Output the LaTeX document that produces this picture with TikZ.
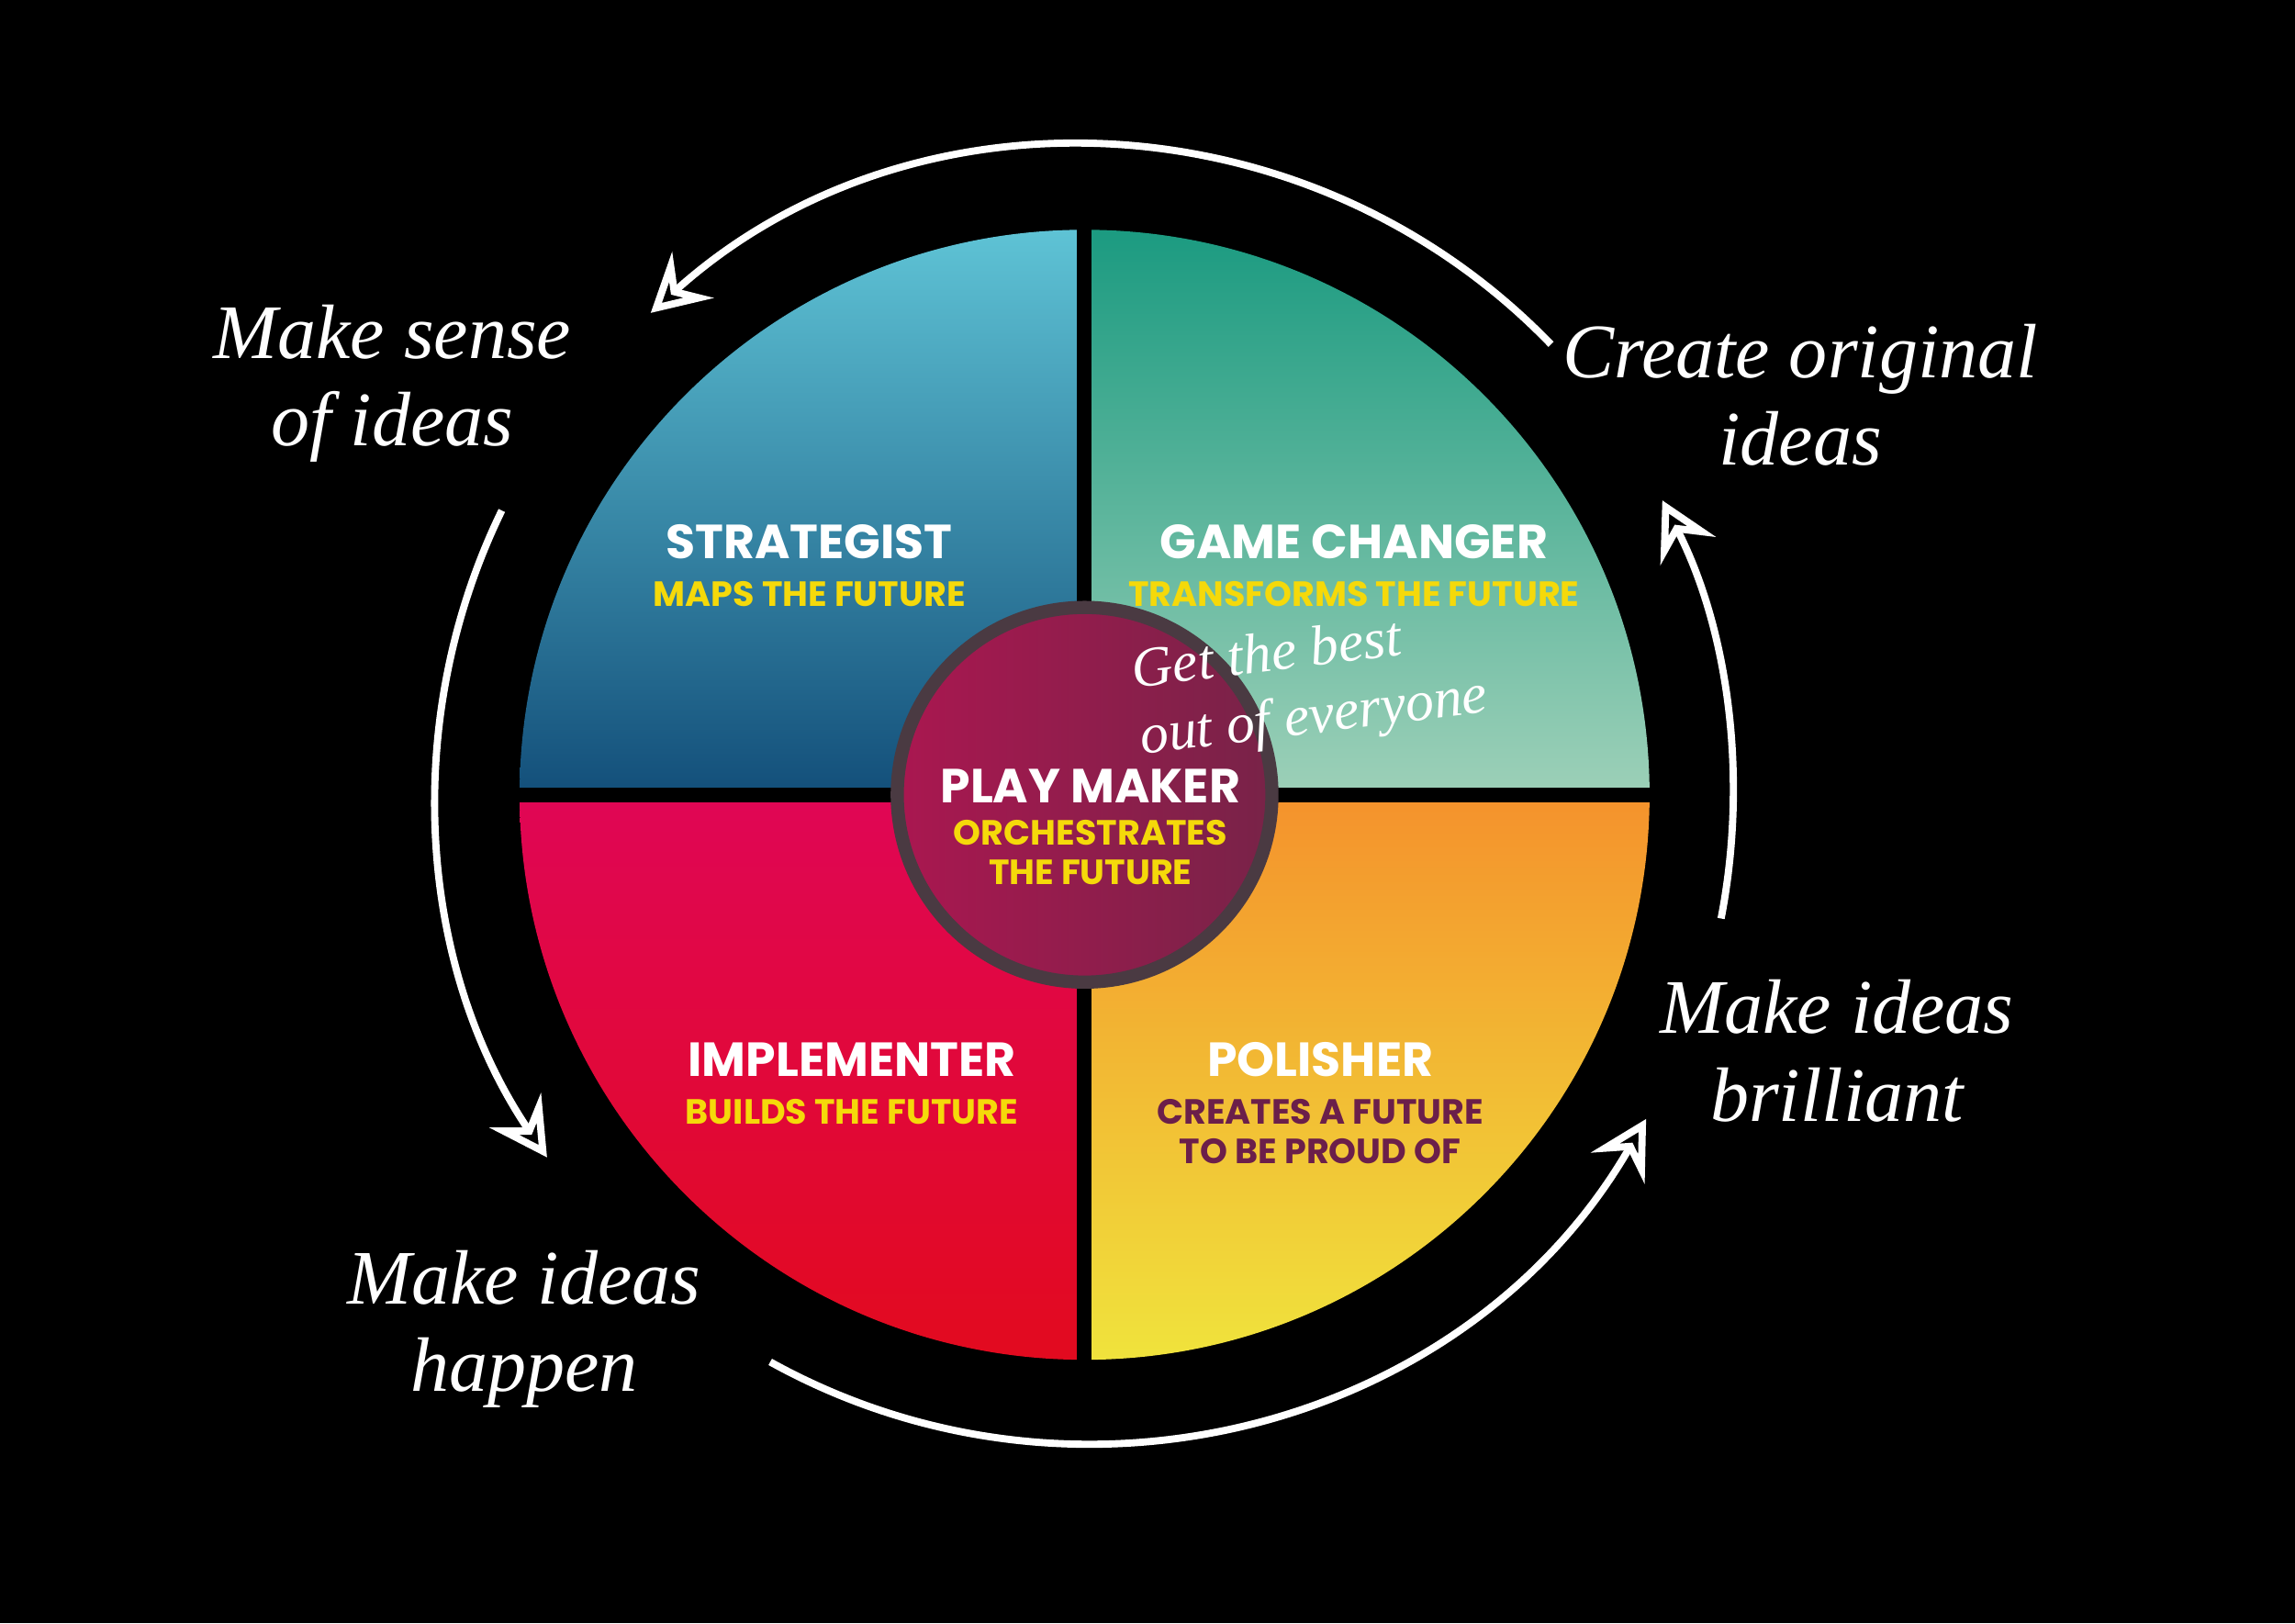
\documentclass[tikz,border=0pt]{standalone}
\usepackage{fontspec}
\newfontfamily\labelfont{Poppins}
\newfontfamily\handfont{Liberation Serif}
\usetikzlibrary{arrows.meta,positioning}
\definecolor{subyellow}{HTML}{F5D90A}
\definecolor{polpurple}{HTML}{6B1F4A}
\definecolor{ringgray}{HTML}{4A3A42}
\tikzset{
  title/.style={text=white, font=\labelfont\bfseries\fontsize{9.3}{10}\selectfont, inner sep=1pt},
  subtitle/.style={text=subyellow, font=\labelfont\bfseries\fontsize{6.8}{7.6}\selectfont, align=center, inner sep=1pt},
  hand/.style={text=white, font=\handfont\itshape\fontsize{15}{17}\selectfont, align=center},
  cycleline/.style={draw=white, line width=1.4pt, -{Stealth[open, length=11pt, width=12pt, inset=4pt]}}
}
\begin{document}
\begin{tikzpicture}
\fill[black] (0,0) rectangle (15.68,11.09);
\useasboundingbox (0,0) rectangle (15.68,11.09);
\coordinate (c) at (7.41,5.66);
% quadrants
\begin{scope}
  \clip (c) -- ++(3.86,0) arc[start angle=0,end angle=90,radius=3.86] -- cycle;
  \shade[top color={rgb,255:red,26;green,154;blue,128}, bottom color={rgb,255:red,157;green,208;blue,184}] (c) rectangle ++(3.9,3.9);
\end{scope}
\begin{scope}
  \clip (c) -- ++(0,3.86) arc[start angle=90,end angle=180,radius=3.86] -- cycle;
  \shade[top color={rgb,255:red,95;green,196;blue,214}, bottom color={rgb,255:red,19;green,79;blue,122}] (c) rectangle ++(-3.9,3.9);
\end{scope}
\begin{scope}
  \clip (c) -- ++(-3.86,0) arc[start angle=180,end angle=270,radius=3.86] -- cycle;
  \shade[top color={rgb,255:red,224;green,6;blue,85}, bottom color={rgb,255:red,226;green,10;blue,30}] (c) rectangle ++(-3.9,-3.9);
\end{scope}
\begin{scope}
  \clip (c) -- ++(0,-3.86) arc[start angle=270,end angle=360,radius=3.86] -- cycle;
  \shade[top color={rgb,255:red,244;green,146;blue,44}, bottom color={rgb,255:red,240;green,228;blue,60}] (c) rectangle ++(3.9,-3.9);
\end{scope}
\draw[black, line width=0.1cm] (c) ++(-4,0) -- ++(8,0);
\draw[black, line width=0.1cm] (c) ++(0,-4) -- ++(0,8);
% centre
\shade[left color={rgb,255:red,170;green,23;blue,80}, right color={rgb,255:red,120;green,35;blue,72}, draw=ringgray, line width=0.09cm] (c) circle (1.28);
% labels
\node[title] (strat) at (5.53,7.39) {STRATEGIST};
\node[subtitle, below=2pt of strat] (stratsub) {MAPS THE FUTURE};
\node[title] (game) at (9.25,7.39) {GAME CHANGER};
\node[subtitle, below=2pt of game] (gamesub) {TRANSFORMS THE FUTURE};
\node[title] (play) at (7.45,5.72) {PLAY MAKER};
\node[subtitle, below=1pt of play] (playsub) {ORCHESTRATES\\THE FUTURE};
\node[title] (impl) at (5.82,3.85) {IMPLEMENTER};
\node[subtitle, below=2pt of impl] (implsub) {BUILDS THE FUTURE};
\node[title] (pol) at (9.02,3.85) {POLISHER};
\node[subtitle, text=polpurple, below=2pt of pol] (polsub) {CREATES A FUTURE\\TO BE PROUD OF};
% handwritten notes
\node[hand] (sense) at (2.68,8.47) {Make sense\\of ideas};
\node[hand] (create) at (12.30,8.39) {Create original\\ideas};
\node[hand] (brill) at (12.55,3.91) {Make ideas\\brilliant};
\node[hand] (happen) at (3.58,2.01) {Make ideas\\happen};
\node[hand, font=\handfont\itshape\fontsize{11}{13}\selectfont, align=left, rotate=7] (best) at (8.95,6.40) {Get the best\\out of everyone};
% cycle arrows
\draw[cycleline] (c) ++(44:4.43) arc[start angle=44,end angle=132,radius=4.43];
\draw[cycleline] (c) ++(154:4.43) arc[start angle=154,end angle=214,radius=4.43];
\draw[cycleline] (c) ++(241:4.43) arc[start angle=241,end angle=330,radius=4.43];
\draw[cycleline] (c) ++(-11:4.43) arc[start angle=-11,end angle=27,radius=4.43];
\end{tikzpicture}
\end{document}
